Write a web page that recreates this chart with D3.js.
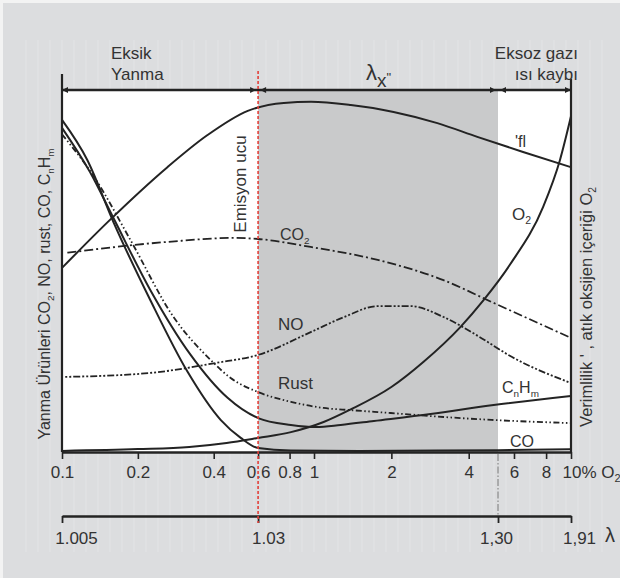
<!DOCTYPE html>
<html><head><meta charset="utf-8">
<script src="https://cdn.jsdelivr.net/npm/d3@7"></script>
<style>
body{margin:0;background:#dcdddf;}
svg{display:block;font-family:"Liberation Sans",Arial,sans-serif;}
</style>
</head><body>
<svg id="c" width="620" height="578"></svg>
<script>
// ---- data (x = O2 %, value = relative height 0..100) ----
const o2Ticks = [0.1,0.2,0.4,0.6,0.8,1,2,4,6,8,10];
const o2TickLabels = ["0.1","0.2","0.4","0.6","0.8","1","2","4","6","8","10"];
const lambdaAtO2 = [0.1,0.6,5.2,10];
const lambdaLabels = ["1.005","1.03","1,30","1,91"];
const bandO2 = [0.6,5.2];          // λ optimum range (grey)
const emissionO2 = 0.6;            // "Emisyon ucu"

const etaO2  = [0.1,0.155,0.262,0.378,0.546,0.759,0.973,1.39,2.04,3.02,4.32,6.51,10];
const etaVal = [51.0,64.3,78.9,87.8,94.5,96.7,97.0,96.1,94.2,91.1,87.3,83.1,78.9];

const oxyO2  = [0.1,0.2,0.32,0.45,0.6,0.81,1.09,1.39,2,2.67,3.71,4.56,5.8,7.8,9.06,10];
const oxyVal = [0.3,0.8,1.4,2.5,3.9,5.5,8.3,11.8,18,25,34.6,42,52,68,80.9,93];

const coO2   = [0.1,0.126,0.16,0.224,0.315,0.426,0.512,0.6,0.81,1.5,3,5.2,10];
const coVal  = [92,80.9,63.7,42.1,22.2,8.9,3.9,1.1,0.4,0.3,0.4,0.5,0.8];

const hcO2   = [0.1,0.129,0.16,0.224,0.324,0.454,0.6,0.81,1.02,1.27,1.71,2.84,5.0,10];
const hcVal  = [89.8,77.6,64.8,44.9,26.9,15.0,9.4,7.5,6.9,7.5,8.6,10.5,13.0,15.5];

const rustO2 = [0.1,0.135,0.187,0.277,0.389,0.467,0.6,0.81,1.09,1.39,1.99,3.19,4.9,10];
const rustVal= [88,75.9,58.7,37.4,25.5,20.5,16.6,13.9,12.2,11.6,10.8,9.7,8.9,8.0];

const co2O2  = [0.105,0.262,0.48,0.6,0.97,1.77,3.19,5.0,10];
const co2Val = [55.2,58.2,59.3,59.0,56.8,53.2,47.6,41.3,31.6];

const noO2   = [0.103,0.224,0.41,0.6,0.97,1.31,1.77,2.38,3.19,4.4,5.9,10];
const noVal  = [20.8,21.9,24.7,26.9,33.2,37.4,40.4,40.4,37.4,31.9,26.3,19.1];

// ---- drawing ----
const W = 620, H = 578;
const svg = d3.select("#c");
const x = d3.scaleLog().domain([0.1,1,10]).range([62,314,571]);
const y = d3.scaleLinear().domain([0,100]).range([452,91]);
const yTop = y(100), yBot = y(0);
const ink = "#232323", txt = "#333";

svg.append("rect").attr("width",W).attr("height",H).attr("fill","#f3f3f3");
svg.append("rect").attr("x",3).attr("y",3).attr("width",W-3).attr("height",H-3).attr("fill","#dcdddf");
svg.append("g").selectAll("line").data(d3.range(26,612,12)).join("line")
  .attr("x1",d=>d).attr("x2",d=>d).attr("y1",40).attr("y2",552)
  .attr("stroke","#e3e4e6").attr("stroke-width",1);

// plot area + band
svg.append("rect").attr("x",x(0.1)).attr("y",yTop).attr("width",x(10)-x(0.1)).attr("height",yBot-yTop).attr("fill","#fff");
svg.append("rect").attr("x",x(bandO2[0])).attr("y",yTop).attr("width",x(bandO2[1])-x(bandO2[0])).attr("height",yBot-yTop).attr("fill","#c9cacb");

// curves
const line = d3.line().x(d=>x(d[0])).y(d=>y(d[1])).curve(d3.curveMonotoneX);
const series = [
  {xs:etaO2, ys:etaVal, dash:null, w:2},
  {xs:oxyO2, ys:oxyVal, dash:null, w:2},
  {xs:coO2,  ys:coVal,  dash:null, w:2},
  {xs:hcO2,  ys:hcVal,  dash:null, w:2},
  {xs:rustO2,ys:rustVal,dash:"6,2.5,1.5,2.5,1.5,2.5", w:1.8},
  {xs:co2O2, ys:co2Val, dash:"9,3,2,3", w:1.8},
  {xs:noO2,  ys:noVal,  dash:"2,2,2,2,7,2", w:1.8}
];
svg.append("g").selectAll("path").data(series).join("path")
  .attr("d",s=>line(s.xs.map((v,i)=>[v,s.ys[i]])))
  .attr("fill","none").attr("stroke",ink).attr("stroke-width",s=>s.w)
  .attr("stroke-dasharray",s=>s.dash);

// frame
const fr = svg.append("g").attr("stroke",ink).attr("stroke-width",2.2);
fr.append("line").attr("x1",x(0.1)).attr("x2",x(0.1)).attr("y1",74).attr("y2",yBot);
fr.append("line").attr("x1",x(10)).attr("x2",x(10)).attr("y1",79).attr("y2",yBot);
fr.append("line").attr("x1",x(0.1)).attr("x2",x(10)).attr("y1",90).attr("y2",90).attr("stroke-width",2.6);

// bracket arrow heads
const marks = [[0.1,-1,0],[emissionO2,1,-2],[emissionO2,-1,2],[bandO2[1],1,-2],[bandO2[1],-1,2],[10,1,0]];
svg.append("g").selectAll("path").data(marks).join("path")
  .attr("d",m=>{const tx=x(m[0])+m[2]; const b=tx-m[1]*6; return `M${tx},90L${b},87L${b},93Z`;})
  .attr("fill",ink);

// bottom O2 axis
const ax = svg.append("g").attr("transform",`translate(0,${yBot})`)
  .call(d3.axisBottom(x).tickValues(o2Ticks).tickFormat((d,i)=>o2TickLabels[i]).tickSize(7).tickPadding(7).tickSizeOuter(0));
ax.select(".domain").attr("stroke",ink).attr("stroke-width",2.4);
ax.selectAll(".tick line").attr("stroke",ink).attr("stroke-width",1.6);
ax.selectAll("text").attr("font-size",17).attr("fill",txt).attr("font-family","Liberation Sans, Arial, sans-serif");
const lastT = ax.selectAll(".tick text").filter((d,i)=>i===o2Ticks.length-1);
lastT.text(null).attr("text-anchor","start").attr("x",-9);
lastT.append("tspan").text("10% O");
lastT.append("tspan").text("2").attr("font-size",11).attr("dy",4);

// lambda axis
const lx = svg.append("g").attr("transform","translate(0,516)")
  .call(d3.axisBottom(x).tickValues(lambdaAtO2).tickFormat((d,i)=>lambdaLabels[i]).tickSize(7).tickPadding(9).tickSizeOuter(0));
lx.select(".domain").attr("stroke",ink).attr("stroke-width",2.4);
lx.selectAll(".tick line").attr("stroke",ink).attr("stroke-width",1.8);
const ldx = [14,10,-2,8];
lx.selectAll(".tick text").attr("font-size",17).attr("fill",txt).attr("font-family","Liberation Sans, Arial, sans-serif")
  .attr("dx",(d,i)=>ldx[i]);
svg.append("text").attr("x",605).attr("y",542).attr("font-size",20).attr("fill",txt).text("λ");

// grey dash-dot boundary below band
svg.append("line").attr("x1",x(bandO2[1])).attr("x2",x(bandO2[1])).attr("y1",yBot+2).attr("y2",516)
  .attr("stroke","#8a8a8a").attr("stroke-width",1.2).attr("stroke-dasharray","7,2,1.5,2");

// red emission line
svg.append("line").attr("x1",x(emissionO2)).attr("x2",x(emissionO2)).attr("y1",71).attr("y2",523)
  .attr("stroke","#e2403a").attr("stroke-width",1.6).attr("stroke-dasharray","3,2");

// rich text helper
function rich(parent, parts, size, attrs){
  const t = parent.append("text").attr("font-size",size).attr("fill",txt);
  Object.entries(attrs||{}).forEach(([k,v])=>t.attr(k,v));
  let low = false;
  parts.forEach(p=>{
    const ts = t.append("tspan").text(p[0]);
    if(p[1]==="sub"){ ts.attr("font-size",size*0.62); if(!low){ts.attr("dy",size*0.25); low=true;} }
    else if(low){ ts.attr("dy",-size*0.25); low=false; }
  });
  return t;
}

// top labels
svg.append("text").attr("x",111).attr("y",59).attr("font-size",17).attr("fill",txt).text("Eksik");
svg.append("text").attr("x",111).attr("y",80).attr("font-size",17).attr("fill",txt).text("Yanma");
svg.append("text").attr("x",578).attr("y",59).attr("font-size",17).attr("fill",txt).attr("text-anchor","end").text("Eksoz gazı");
svg.append("text").attr("x",578).attr("y",80).attr("font-size",17).attr("fill",txt).attr("text-anchor","end").text("ısı kaybı");
const lam = svg.append("text").attr("x",366).attr("y",80).attr("fill",txt);
lam.append("tspan").text("λ").attr("font-size",22);
lam.append("tspan").text("x").attr("font-size",19).attr("dy",7);
lam.append("tspan").text("\"").attr("font-size",13).attr("dy",-5);

// curve labels
svg.append("text").attr("x",515).attr("y",147).attr("font-size",16).attr("fill",txt).text("'fl");
rich(svg,[["O",""],["2","sub"]],17,{x:512,y:220});
rich(svg,[["CO",""],["2","sub"]],16,{x:280,y:240});
svg.append("text").attr("x",278).attr("y",330).attr("font-size",17).attr("fill",txt).text("NO");
svg.append("text").attr("x",278).attr("y",389).attr("font-size",17).attr("fill",txt).text("Rust");
rich(svg,[["C",""],["n","sub"],["H",""],["m","sub"]],16,{x:502,y:393});
svg.append("text").attr("x",510).attr("y",447).attr("font-size",16).attr("fill",txt).text("CO");

// rotated labels
svg.append("text").attr("transform",`translate(246,184) rotate(-90)`).attr("text-anchor","middle")
  .attr("font-size",17).attr("fill",txt).text("Emisyon ucu");
rich(svg,[["Yanma Ürünleri CO",""],["2","sub"],[", NO, rust, CO, C",""],["n","sub"],["H",""],["m","sub"]],16,
  {transform:"translate(50,294) rotate(-90)","text-anchor":"middle"});
rich(svg,[["Verimlilik ' , atık oksijen içeriği O",""],["2","sub"]],16.5,
  {transform:"translate(592,307) rotate(-90)","text-anchor":"middle"});
</script>
</body></html>
